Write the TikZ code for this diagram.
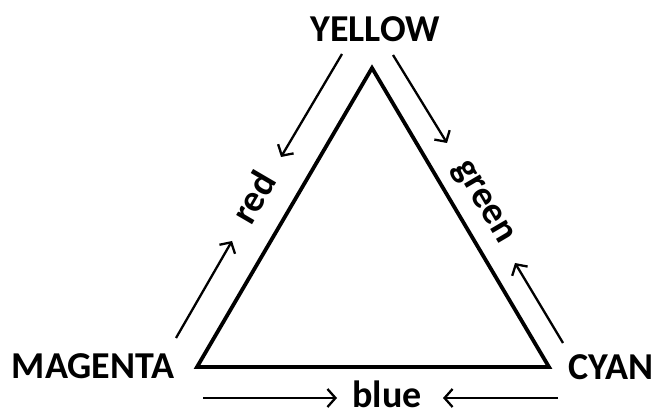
\documentclass[tikz,border=0pt]{standalone}
\usepackage{fontspec}
\setmainfont{Carlito}
\usetikzlibrary{arrows.meta}
\begin{document}
\begin{tikzpicture}[x=1pt,y=-1pt,
  lbl/.style={font=\fontsize{38}{40}\selectfont\bfseries, inner sep=0pt},
  side/.style={line width=3.8pt, line join=miter},
  flow/.style={line width=2.3pt, -{Straight Barb[length=8pt,width=18pt,line width=2.3pt]}}]
\useasboundingbox (0,0) rectangle (655,411);
\coordinate (Y) at (372,68);
\coordinate (M) at (197,367);
\coordinate (C) at (549,367);
\draw[side] (Y) -- (M) -- (C) -- cycle;
\node[lbl] (yellow) at (375,29) {YELLOW};
\node[lbl] (magenta) at (93,366) {MAGENTA};
\node[lbl] (cyan) at (611,367) {CYAN};
\node[lbl, rotate=59.7] (red) at (253,197) {red};
\node[lbl, rotate=-59.5] (green) at (482,203) {green};
\node[lbl] (blue) at (387,394) {blue};
\coordinate (r1s) at (342,54);  \coordinate (r1e) at (281,157);
\coordinate (r2s) at (176,338); \coordinate (r2e) at (232,241);
\coordinate (g1s) at (393,55);  \coordinate (g1e) at (447,143);
\coordinate (g2s) at (563,343); \coordinate (g2e) at (515,263);
\coordinate (b1s) at (203,398); \coordinate (b1e) at (337,398);
\coordinate (b2s) at (558,398); \coordinate (b2e) at (443,398);
\draw[flow] (r1s) -- (r1e);
\draw[flow] (r2s) -- (r2e);
\draw[flow] (g1s) -- (g1e);
\draw[flow] (g2s) -- (g2e);
\draw[flow] (b1s) -- (b1e);
\draw[flow] (b2s) -- (b2e);
\end{tikzpicture}
\end{document}
